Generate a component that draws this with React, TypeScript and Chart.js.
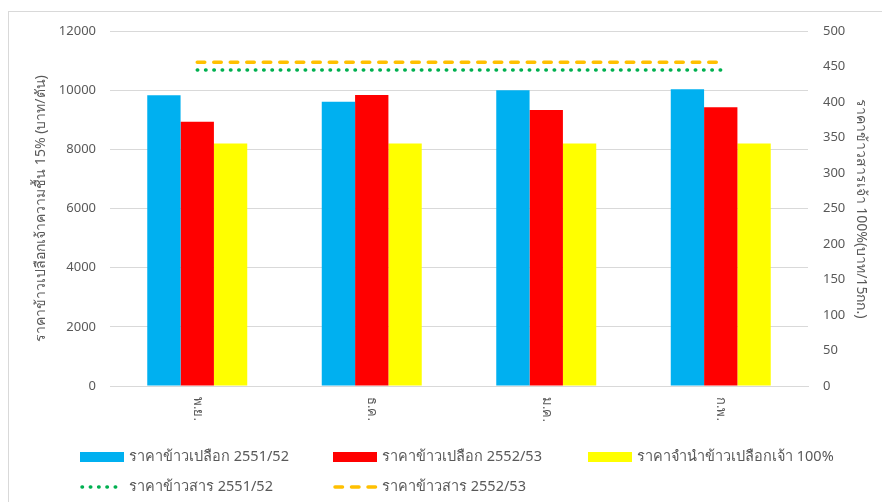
import React, { useEffect, useRef } from "react";
import { Chart, registerables } from "chart.js";

Chart.register(...registerables);

// ---- data ----
const categories = ["พ.ย.", "ธ.ค.", "ม.ค.", "ก.พ."];
const seriesNames = [
  "ราคาข้าวเปลือก 2551/52",
  "ราคาข้าวเปลือก 2552/53",
  "ราคาจำนำข้าวเปลือกเจ้า 100%",
  "ราคาข้าวสาร 2551/52",
  "ราคาข้าวสาร 2552/53",
];
const paddy5152 = [9830, 9610, 10000, 10030];
const paddy5253 = [8930, 9840, 9330, 9420];
const pledge100 = [8200, 8200, 8200, 8200];
const milled5152 = [445, 445, 445, 445];
const milled5253 = [456, 456, 456, 456];

const leftAxisTitle = "ราคาข้าวเปลือกเจ้าความชื้น 15% (บาท/ตัน)";
const rightAxisTitle = "ราคาข้าวสารเจ้า 100%(บาท/15กก.)";
const leftMax = 12000;
const leftStep = 2000;
const rightMax = 500;
const rightStep = 50;

// ---- style ----
const FONT = '"Noto Sans", "DejaVu Sans", sans-serif';
const TEXT = "#595959";
const GRID = "#d9d9d9";

const decorPlugin = {
  id: "decor",
  beforeDraw(chart: any) {
    const { ctx, width, height } = chart;
    ctx.save();
    ctx.fillStyle = "#ffffff";
    ctx.fillRect(0, 0, width, height);
    ctx.strokeStyle = GRID;
    ctx.lineWidth = 1;
    ctx.strokeRect(8.5, 11.5, width + 20, height + 20);
    ctx.restore();
  },
  afterDraw(chart: any) {
    const { ctx } = chart;
    const xs = chart.scales.x;
    ctx.save();
    // rotated category labels (reading top to bottom)
    ctx.fillStyle = TEXT;
    ctx.font = `13px ${FONT}`;
    ctx.textAlign = "left";
    ctx.textBaseline = "middle";
    categories.forEach((c, i) => {
      const x = xs.getPixelForTick(i);
      ctx.save();
      ctx.translate(x, xs.top + 11);
      ctx.rotate(Math.PI / 2);
      ctx.fillText(c, 0, 0);
      ctx.restore();
    });
    // legend in fixed columns
    const cols = [80, 333, 588];
    const rows = [457, 487];
    chart.data.datasets.forEach((ds: any, i: number) => {
      const col = i < 3 ? i : i - 3;
      const row = i < 3 ? 0 : 1;
      const bx = cols[col];
      const cy = rows[row];
      ctx.save();
      if (ds.type === "line") {
        ctx.strokeStyle = ds.borderColor;
        ctx.lineWidth = ds.borderWidth;
        ctx.lineCap = ds.borderCapStyle;
        ctx.setLineDash(ds.borderDash);
        ctx.beginPath();
        ctx.moveTo(bx + 2, cy);
        ctx.lineTo(bx + 43, cy);
        ctx.stroke();
      } else {
        ctx.fillStyle = ds.backgroundColor;
        ctx.fillRect(bx, cy - 5, 44, 10);
      }
      ctx.restore();
      ctx.fillStyle = TEXT;
      ctx.font = `14.5px ${FONT}`;
      ctx.textAlign = "left";
      ctx.textBaseline = "middle";
      ctx.fillText(ds.label, bx + 49, cy);
    });
    ctx.restore();
  },
};

export default function App() {
  const canvasRef = useRef<HTMLCanvasElement | null>(null);

  useEffect(() => {
    if (!canvasRef.current) return;
    const chart = new Chart(canvasRef.current, {
      type: "bar",
      data: {
        labels: categories,
        datasets: [
          {
            type: "bar",
            label: seriesNames[0],
            data: paddy5152,
            backgroundColor: "#00B0F0",
            yAxisID: "y",
          },
          {
            type: "bar",
            label: seriesNames[1],
            data: paddy5253,
            backgroundColor: "#FF0000",
            yAxisID: "y",
          },
          {
            type: "bar",
            label: seriesNames[2],
            data: pledge100,
            backgroundColor: "#FFFF00",
            yAxisID: "y",
          },
          {
            type: "line",
            label: seriesNames[3],
            data: milled5152,
            borderColor: "#00B050",
            backgroundColor: "#00B050",
            borderWidth: 3.5,
            borderDash: [0.5, 7.8],
            borderCapStyle: "round",
            pointRadius: 0,
            fill: false,
            yAxisID: "y1",
          },
          {
            type: "line",
            label: seriesNames[4],
            data: milled5253,
            borderColor: "#FFC000",
            backgroundColor: "#FFC000",
            borderWidth: 3.5,
            borderDash: [7.5, 9],
            borderCapStyle: "round",
            pointRadius: 0,
            fill: false,
            yAxisID: "y1",
          },
        ] as any,
      },
      options: {
        animation: false,
        responsive: false,
        maintainAspectRatio: false,
        layout: { padding: { left: 0, right: 0, top: 31, bottom: 0 } },
        datasets: {
          bar: { barPercentage: 1, categoryPercentage: 0.573 },
        },
        plugins: {
          legend: { display: false },
          tooltip: { enabled: false },
        },
        scales: {
          x: {
            grid: { display: false, drawTicks: false },
            border: { display: true, color: GRID, width: 1 },
            ticks: { display: false },
            afterFit(scale: any) {
              scale.height = 116;
            },
          },
          y: {
            position: "left",
            min: 0,
            max: leftMax,
            ticks: {
              stepSize: leftStep,
              padding: 14,
              color: TEXT,
              font: { family: FONT, size: 13 },
              callback: (v: any) => String(v),
            },
            grid: { color: GRID, lineWidth: 1, drawTicks: false },
            border: { display: false },
            title: {
              display: true,
              text: leftAxisTitle,
              color: TEXT,
              font: { family: FONT, size: 14 },
              padding: { top: 33, bottom: 0 },
            },
            afterFit(scale: any) {
              scale.width = 110;
            },
          },
          y1: {
            position: "right",
            min: 0,
            max: rightMax,
            ticks: {
              stepSize: rightStep,
              padding: 15,
              color: TEXT,
              font: { family: FONT, size: 13 },
              callback: (v: any) => String(v),
            },
            grid: { display: false, drawTicks: false },
            border: { display: false },
            title: {
              display: true,
              text: rightAxisTitle,
              color: TEXT,
              font: { family: FONT, size: 14 },
              padding: { top: 13, bottom: 0 },
            },
            afterFit(scale: any) {
              scale.width = 74;
            },
          },
        },
      } as any,
      plugins: [decorPlugin],
    });
    return () => chart.destroy();
  }, []);

  return (
    <div style={{ position: "fixed", left: 0, top: 0, width: 882, height: 502 }}>
      <canvas ref={canvasRef} width={882} height={502} style={{ display: "block" }} />
    </div>
  );
}
